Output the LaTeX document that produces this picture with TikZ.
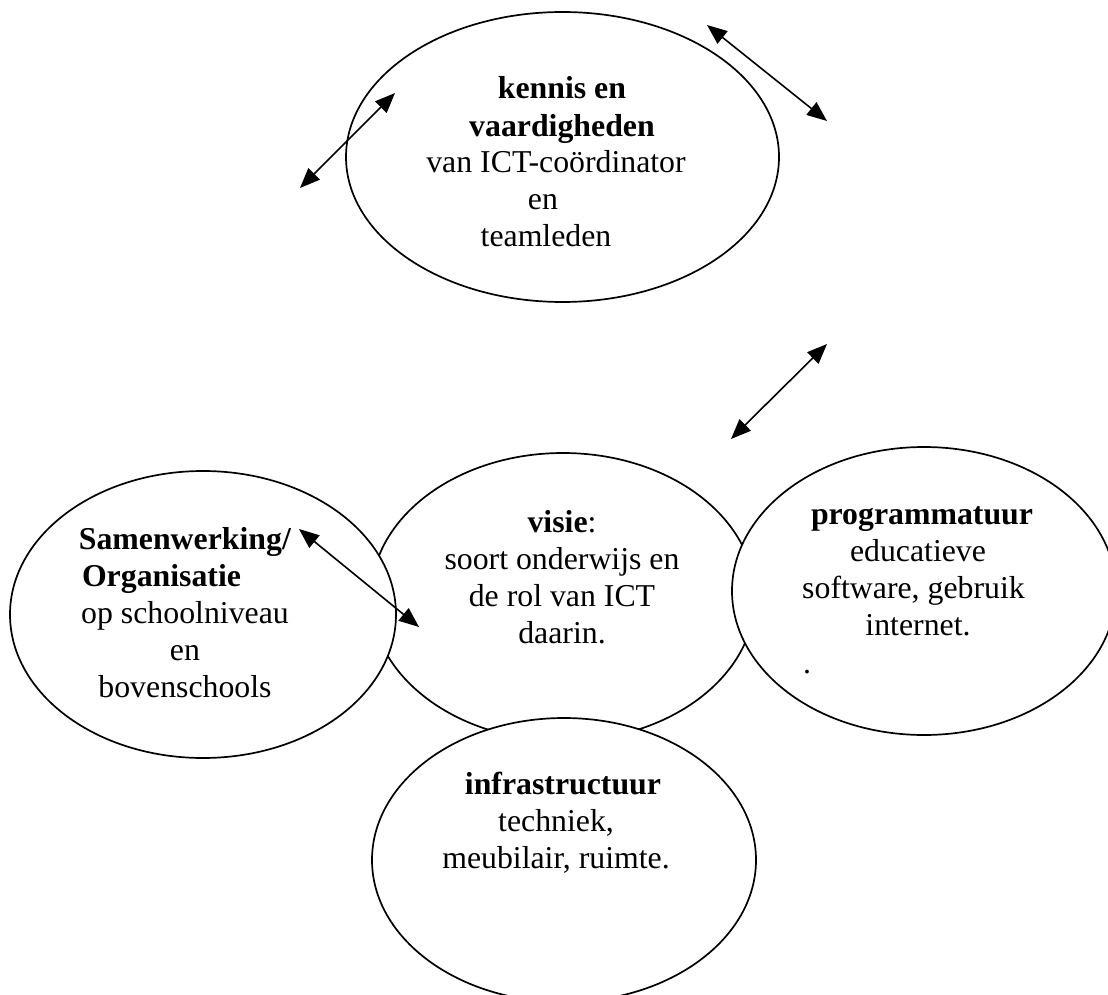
\documentclass[tikz,border=0pt]{standalone}
\usepackage{fontspec}
\setmainfont{Liberation Serif}
\usetikzlibrary{shapes.geometric,arrows.meta}
\newcommand{\padr}[1]{\rule{#1}{0pt}}
\tikzset{
  oval/.style={ellipse, draw, fill=white, line width=1.7pt, inner sep=0pt},
  txt/.style={align=center, anchor=base, inner sep=0pt, font=\fontsize{31.8}{37}\selectfont},
  link/.style={line width=1.6pt, {Triangle[length=20pt,width=16pt]}-{Triangle[length=20pt,width=16pt]}}
}
\begin{document}
\begin{tikzpicture}[x=1pt,y=-1pt]
\clip (0,0) rectangle (1108,995);
% ellipses (visie first, the others overlap it)
\node[oval, minimum width=384pt, minimum height=288pt] (visie) at (563,597) {};
\node[oval, minimum width=386pt, minimum height=287pt] (samen) at (203,614.5) {};
\node[oval, minimum width=384pt, minimum height=288pt] (prog) at (924,591) {};
\node[oval, minimum width=384pt, minimum height=284pt] (infra) at (564,860) {};
\node[oval, minimum width=433pt, minimum height=290pt] (kennis) at (562.5,157) {};
% texts (anchor base = baseline of the last line)
\node[txt] (tkennis) at (562,247) {\textbf{kennis en}\\\textbf{vaardigheden}\\van ICT-coördinator\padr{12pt}\\en\padr{38pt}\\teamleden\padr{32pt}};
\node[txt] (tsamen) at (185,697) {\textbf{Samenwerking/}\\\textbf{Organisatie}\padr{47pt}\\op schoolniveau\\en\\bovenschools};
\node[txt] (tvisie) at (562,643) {\textbf{visie}:\\soort onderwijs en\\de rol van ICT\\daarin.};
\node[txt] (tprog) at (918,635) {\padr{8pt}\textbf{programmatuur}\\educatieve\\software, gebruik\padr{9pt}\\internet.};
\node[txt] (tdot) at (807,673) {.};
\node[txt] (tinfra) at (556,868) {\padr{14pt}\textbf{infrastructuur}\\techniek,\\meubilair, ruimte.};
% arrows
\coordinate (a1s) at (300,188);
\coordinate (a1e) at (395,93);
\coordinate (a2s) at (707,25);
\coordinate (a2e) at (827,121);
\coordinate (a3s) at (827,344);
\coordinate (a3e) at (731,439);
\coordinate (a4s) at (299,529);
\coordinate (a4e) at (419,627);
\draw[link] (a1s) -- (a1e);
\draw[link] (a2s) -- (a2e);
\draw[link] (a3s) -- (a3e);
\draw[link] (a4s) -- (a4e);
\end{tikzpicture}
\end{document}
